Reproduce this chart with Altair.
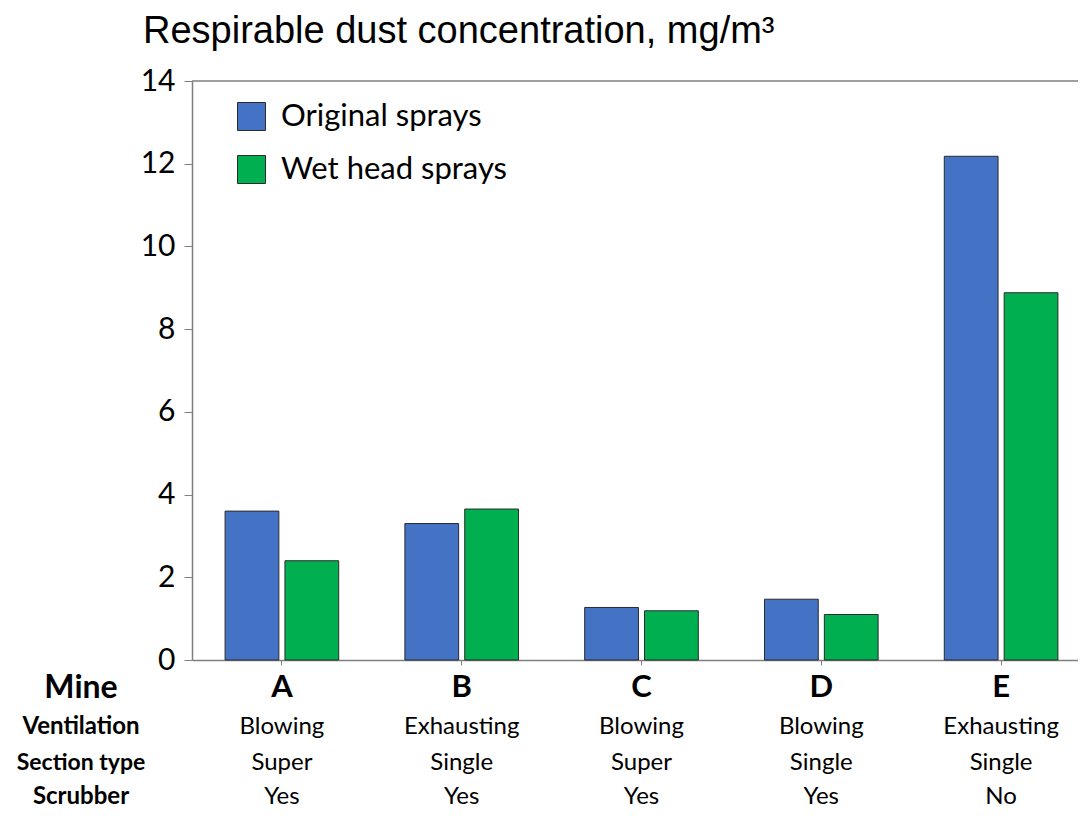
import altair as alt
import pandas as pd

mines = ["A", "B", "C", "D", "E"]
ventilation = ["Blowing", "Exhausting", "Blowing", "Blowing", "Exhausting"]
section_type = ["Super", "Single", "Super", "Single", "Single"]
scrubber = ["Yes", "Yes", "Yes", "Yes", "No"]
series = ["Original sprays", "Wet head sprays"]
original = [3.6, 3.3, 1.27, 1.47, 12.18]
wet_head = [2.4, 3.65, 1.19, 1.1, 8.88]
colors = ["#4472C4", "#00B050"]
row_labels = ["Mine", "Ventilation", "Section type", "Scrubber"]

bars_df = pd.DataFrame(
    [{"mine": m, "series": series[0], "value": v} for m, v in zip(mines, original)]
    + [{"mine": m, "series": series[1], "value": v} for m, v in zip(mines, wet_head)]
)
table_df = pd.DataFrame(
    {"mine": mines, "ventilation": ventilation, "section": section_type, "scrubber": scrubber}
)

W, H = 886, 579
RANGE_W = 899
FONT = "Lato"

x_enc = alt.X(
    "mine:N",
    sort=mines,
    scale=alt.Scale(paddingInner=0.368, paddingOuter=0.184, range=[0, RANGE_W]),
    axis=alt.Axis(
        labels=False, title=None, domainColor="#7f7f7f", tickColor="#7f7f7f",
        tickSize=5, domainWidth=1.5,
    ),
)

bars = alt.Chart(bars_df).mark_bar(stroke="#2b2b2b", strokeWidth=1).encode(
    x=x_enc,
    xOffset=alt.XOffset("series:N", sort=series, scale=alt.Scale(paddingInner=0.1017)),
    y=alt.Y(
        "value:Q",
        scale=alt.Scale(domain=[0, 14], nice=False),
        axis=alt.Axis(
            values=[0, 2, 4, 6, 8, 10, 12, 14], title=None, grid=False,
            domainColor="#7f7f7f", tickColor="#7f7f7f", tickSize=8, domainWidth=1.5,
            labelFont=FONT, labelFontSize=30, labelColor="black", labelPadding=9,
        ),
    ),
    color=alt.Color(
        "series:N",
        sort=series,
        scale=alt.Scale(domain=series, range=colors),
        legend=alt.Legend(
            title=None, orient="none", legendX=44, legendY=20,
            symbolType="square", symbolSize=784, symbolStrokeColor="#2b2b2b",
            symbolStrokeWidth=1, symbolOpacity=1, labelFont=FONT, labelFontSize=31,
            labelColor="black", rowPadding=20, labelOffset=14, labelLimit=400,
        ),
    ),
)

top_rule = alt.Chart(pd.DataFrame({"k": [0]})).mark_rule(
    color="#7f7f7f", strokeWidth=1.5
).encode(x=alt.value(0), x2=alt.value(W), y=alt.value(0))

layers = [bars, top_rule]

row_specs = [
    ("mine", 607, 31, "bold", 32),
    ("ventilation", 646, 24, "normal", 24),
    ("section", 682, 24, "normal", 23),
    ("scrubber", 716, 24, "normal", 24),
]
for (field, ypos, size, weight, lsize), label in zip(row_specs, row_labels):
    layers.append(
        alt.Chart(table_df).mark_text(
            font=FONT, fontSize=size, fontWeight=weight, color="black",
            baseline="middle", align="center",
        ).encode(x=alt.X("mine:N", sort=mines), y=alt.value(ypos), text=f"{field}:N")
    )
    layers.append(
        alt.Chart(pd.DataFrame({"label": [label]})).mark_text(
            font=FONT, fontSize=lsize, fontWeight="bold",
            color="black", baseline="middle", align="center",
        ).encode(x=alt.value(-111), y=alt.value(ypos), text="label:N")
    )

chart = alt.layer(*layers).properties(
    width=W, height=H,
    title=alt.Title(
        "Respirable dust concentration, mg/m³", anchor="start", frame="group",
        font="Liberation Sans", fontSize=38, fontWeight="normal", color="black",
        dx=-49, offset=15,
    ),
    autosize=alt.AutoSizeParams(type="none"),
    padding={"left": 184, "top": 73, "right": 0, "bottom": 148},
).configure_view(stroke=None)

chart.save("out.html", embed_options={"renderer": "svg", "actions": False})
